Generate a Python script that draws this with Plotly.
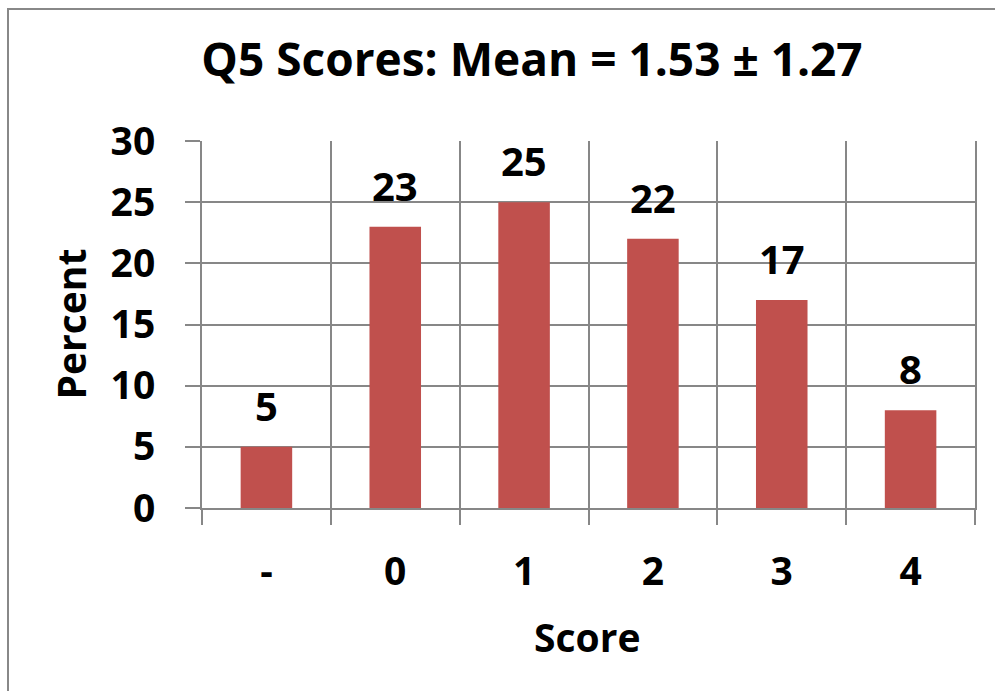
import plotly.graph_objects as go

categories = ["-", "0", "1", "2", "3", "4"]
percent = [5, 23, 25, 22, 17, 8]
y_ticks = [0, 5, 10, 15, 20, 25, 30]
title_text = "Q5 Scores: Mean = 1.53 ± 1.27"
x_title = "Score"
y_title = "Percent"

FONT = "Open Sans"
GRID = "#878787"
BAR = "#C0504D"

W, H = 995, 691
L, R, T, B = 202, 20, 141, 183
pw = W - L - R
ph = H - T - B

fig = go.Figure()
fig.add_trace(go.Bar(
    x=categories, y=percent, marker=dict(color=BAR, line=dict(width=0)),
    width=0.4, hoverinfo="x+y",
))

annotations = []
for i, v in enumerate(percent):
    annotations.append(dict(
        x=i, y=v, xref="x", yref="y", text=str(v), showarrow=False,
        yanchor="bottom", yshift=12,
        font=dict(family=FONT, size=40, color="black", weight="bold"),
    ))
annotations.append(dict(
    x=(70 - L) / pw, y=0.5, xref="paper", yref="paper", text=y_title,
    textangle=-90, showarrow=False, xanchor="center", yanchor="middle",
    font=dict(family=FONT, size=39, color="black", weight="bold"),
))
annotations.append(dict(
    x=(587 - L) / pw, y=(H - B - 636) / ph, xref="paper", yref="paper", text=x_title,
    showarrow=False, xanchor="center", yanchor="middle",
    font=dict(family=FONT, size=39, color="black", weight="bold"),
))

fig.update_layout(
    width=W, height=H,
    margin=dict(l=L, r=R, t=T, b=B, pad=0),
    paper_bgcolor="white", plot_bgcolor="white",
    showlegend=False,
    title=dict(
        text=title_text, xref="container", yref="container",
        x=532 / W, xanchor="center", y=1 - 60 / H, yanchor="middle",
        font=dict(family=FONT, size=46, color="black", weight="bold"),
    ),
    annotations=annotations,
    shapes=[dict(
        type="rect", xref="paper", yref="paper",
        x0=(8 - L) / pw, x1=(1100 - L) / pw,
        y0=(H - B - 800) / ph, y1=(H - B - 9) / ph,
        line=dict(color="#888888", width=2), fillcolor="rgba(0,0,0,0)", layer="below",
    )],
)

fig.update_xaxes(
    type="category", range=[-0.5, 5.5],
    tickson="boundaries", ticks="outside", ticklen=15, tickwidth=2, tickcolor=GRID,
    showgrid=True, gridcolor=GRID, gridwidth=2,
    showline=True, linecolor=GRID, linewidth=2,
    tickfont=dict(family=FONT, size=39, color="black", weight="bold"),
    ticklabelstandoff=28,
)
fig.update_yaxes(
    range=[0, 30], tickvals=y_ticks, ticks="outside", ticklen=15, tickwidth=2, tickcolor=GRID,
    showgrid=True, gridcolor=GRID, gridwidth=2,
    showline=True, linecolor=GRID, linewidth=2, mirror=True,
    zeroline=False,
    tickfont=dict(family=FONT, size=39, color="black", weight="bold"),
    ticklabelstandoff=22,
)

fig.write_html("out.html", config={"displayModeBar": False},
               post_script="document.body.style.margin='0';")
